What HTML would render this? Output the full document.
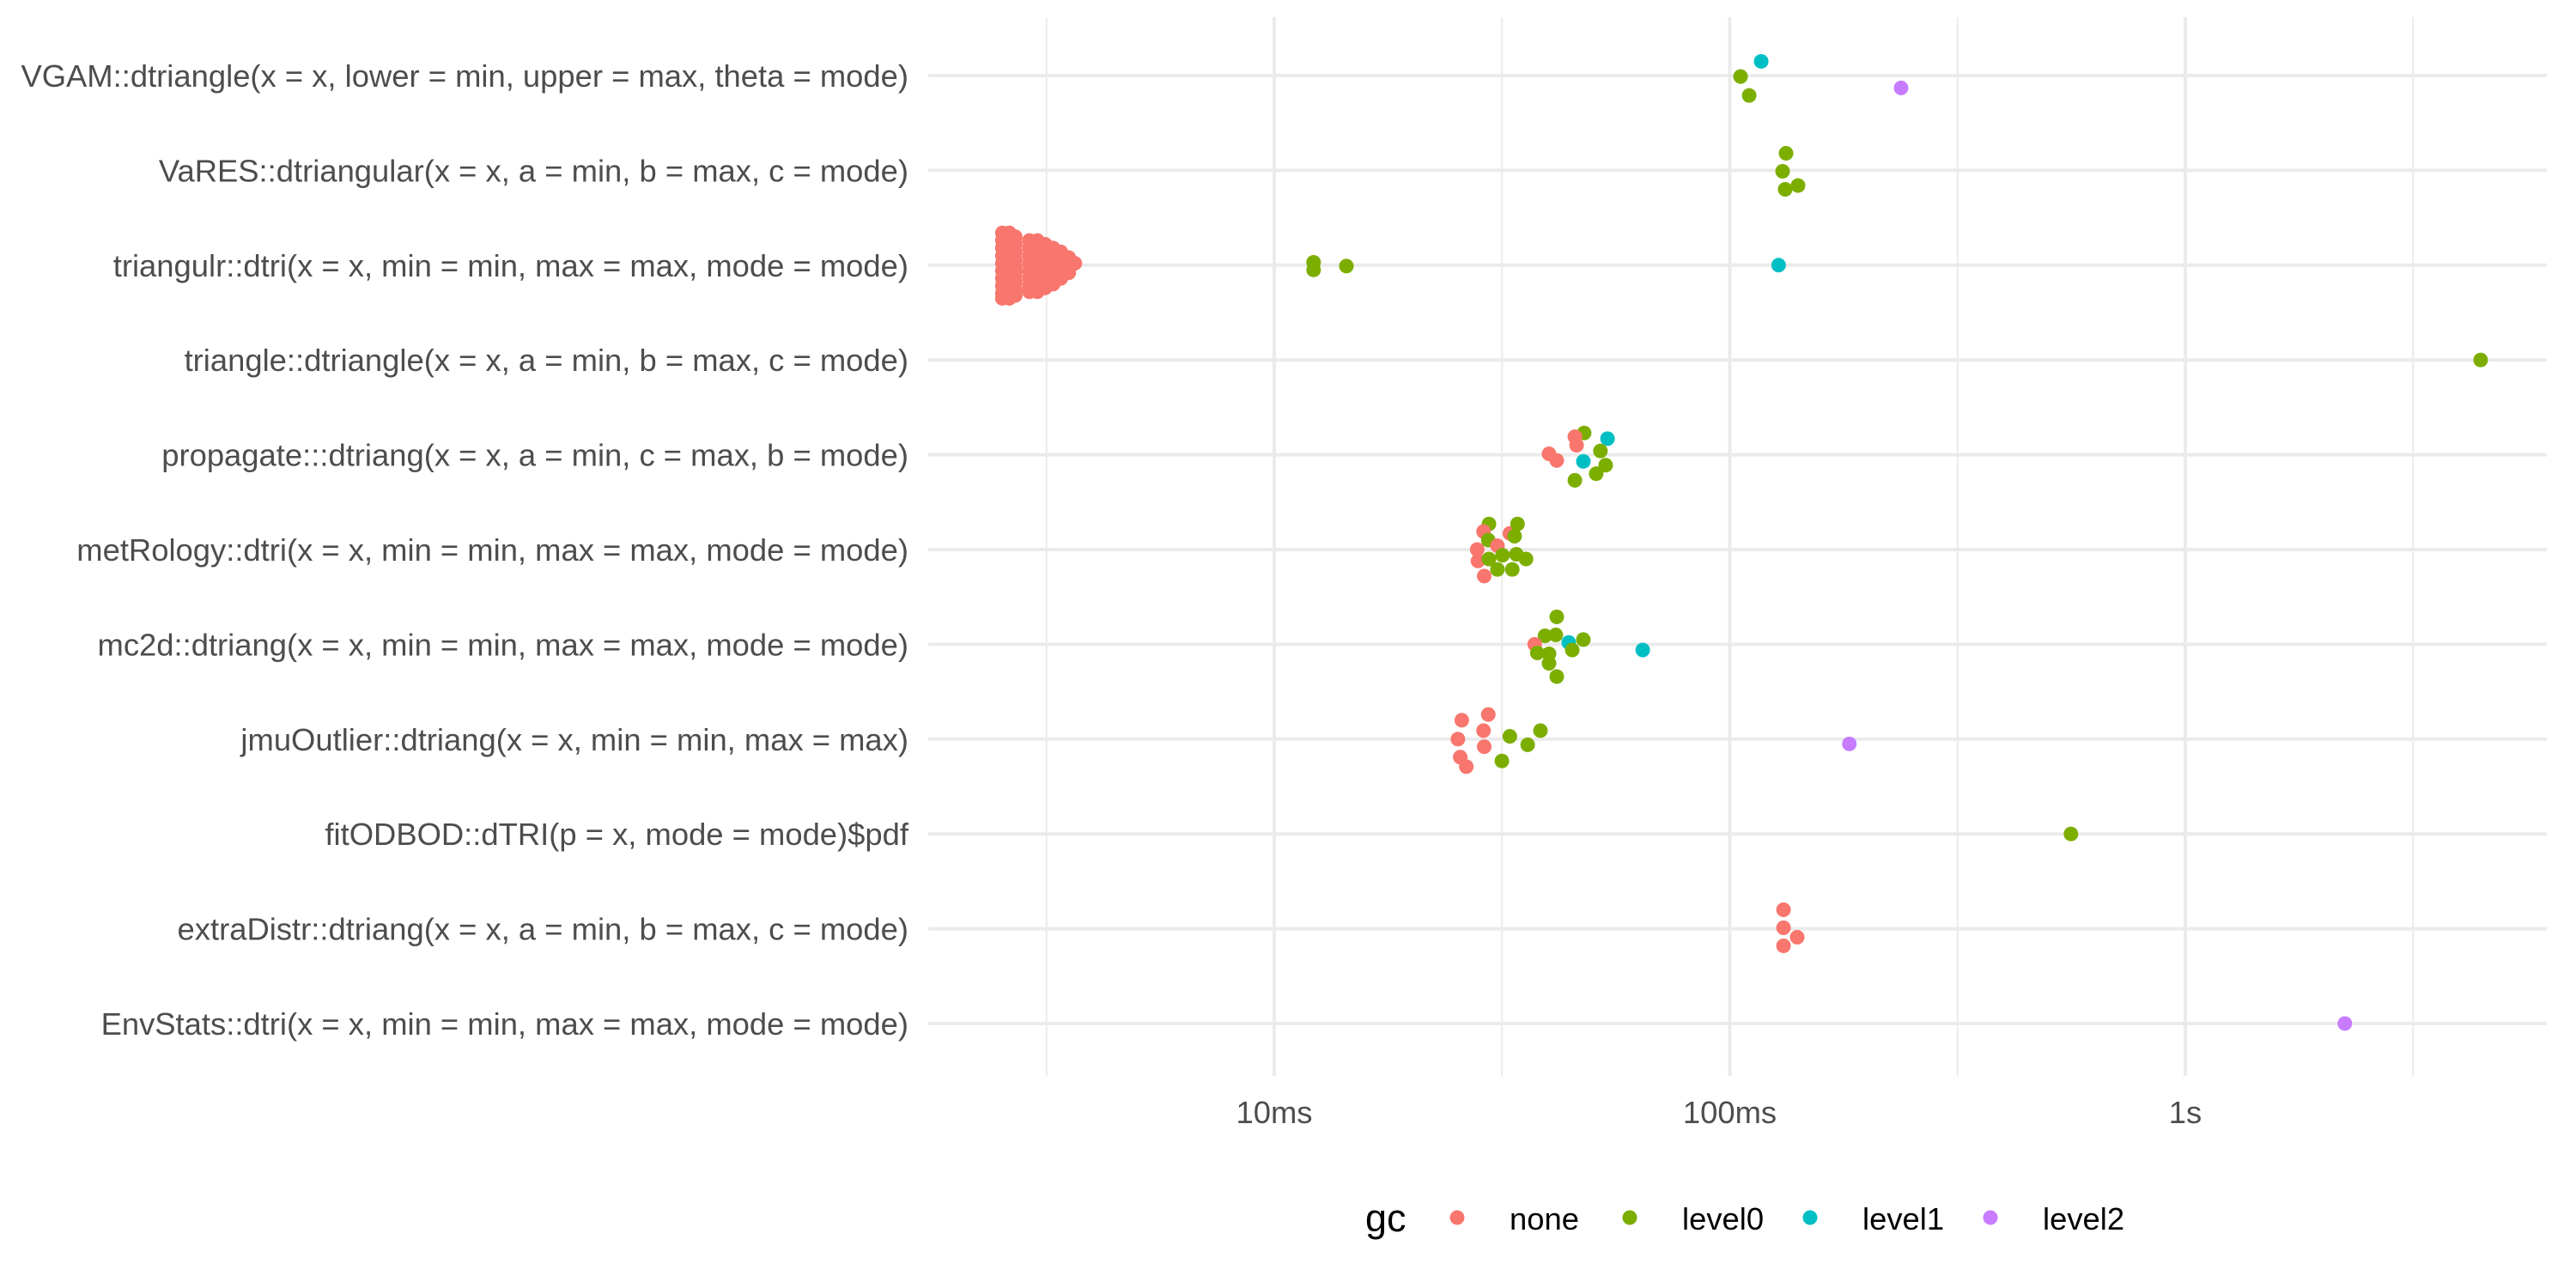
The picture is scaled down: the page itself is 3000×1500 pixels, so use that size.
<!DOCTYPE html>
<html><head><meta charset="utf-8"><style>
body{margin:0;background:#fff}
svg{display:block;font-family:"Liberation Sans",sans-serif}
</style></head><body>
<svg id="chart" width="3000" height="1500" viewBox="0 0 3000 1500" xmlns="http://www.w3.org/2000/svg">
<rect width="3000" height="1500" fill="#fff"/>
<g id="grid"></g>
<g id="ylabels"></g>
<g id="xlabels"></g>
<g id="points"></g>
<g id="legend">
<text x="1590" y="1434" font-size="45" fill="#000">gc</text>
</g>
</svg>
<script>
const categories = ["VGAM::dtriangle(x = x, lower = min, upper = max, theta = mode)","VaRES::dtriangular(x = x, a = min, b = max, c = mode)","triangulr::dtri(x = x, min = min, max = max, mode = mode)","triangle::dtriangle(x = x, a = min, b = max, c = mode)","propagate:::dtriang(x = x, a = min, c = max, b = mode)","metRology::dtri(x = x, min = min, max = max, mode = mode)","mc2d::dtriang(x = x, min = min, max = max, mode = mode)","jmuOutlier::dtriang(x = x, min = min, max = max)","fitODBOD::dTRI(p = x, mode = mode)$pdf","extraDistr::dtriang(x = x, a = min, b = max, c = mode)","EnvStats::dtri(x = x, min = min, max = max, mode = mode)"];
const gcLevels = ["none","level0","level1","level2"];
const gcColors = ["#F8766D","#7CAE00","#00BFC4","#C77CFF"];
const majorTicksMs = [10,100,1000];
const majorTickLabels = ["10ms","100ms","1s"];
const minorTicksMs = [3.162,31.62,316.2,3162];
// points: row index, time (ms), vertical jitter (row units), gc level index
const ptRow = [0,0,0,0, 1,1,1,1,
 3, 4,4,4,4,4,4,4,4,4,4,4,
 5,5,5,5,5,5,5,5,5,5,5,5,5,5,5,5,
 6,6,6,6,6,6,6,6,6,6,6,6,
 7,7,7,7,7,7,7,7,7,7,7,7,
 8, 9,9,9,9, 10,
 2,2,2,2,
 2,2,2,2,2,2,2,2,2,2, 2,2,2,2,2,2,2,2,2,2, 2,2,2,2,2,2,2,2,2,2,
 2,2,2,2,2,2,2,2, 2,2,2,2,2,2,2,2, 2,2,2,2,2,2,2, 2,2,2,2,2,2, 2,2,2,2,2, 2,2,2, 2];
const ptTime = [117.2,105.6,110.3,237.7, 132.9,130.6,132.3,141.2,
 4450, 47.9,45.7,46.1,53.9,52.0,40.1,41.7,47.7,53.4,50.9,45.7,
 29.6,28.8,32.9,34.2,33.7,29.5,30.9,27.9,28.0,29.6,31.7,34.0,35.7,30.9,33.3,28.9,
 41.7,39.3,41.5,37.3,44.3,47.7,45.1,37.8,40.1,40.1,41.7,64.4,
 29.5,25.8,28.8,25.3,32.9,38.4,28.9,36.0,25.6,26.4,31.6,183,
 561, 131.2,131.2,131.2,140.6, 2240,
 12.2,12.2,14.4,128,
 2.53,2.53,2.53,2.53,2.53,2.53,2.53,2.53,2.53,2.53, 2.62,2.62,2.62,2.62,2.62,2.62,2.62,2.62,2.62,2.62, 2.70,2.70,2.70,2.70,2.70,2.70,2.70,2.70,2.70,2.70,
 2.90,2.90,2.90,2.90,2.90,2.90,2.90,2.90, 3.02,3.02,3.02,3.02,3.02,3.02,3.02,3.02, 3.14,3.14,3.14,3.14,3.14,3.14,3.14, 3.27,3.27,3.27,3.27,3.27,3.27, 3.40,3.40,3.40,3.40,3.40, 3.54,3.54,3.54, 3.65];
const ptJitter = [-0.15,0.01,0.21,0.13, -0.18,0.01,0.2,0.16,
 0, -0.23,-0.19,-0.1,-0.17,-0.04,-0.01,0.06,0.07,0.11,0.2,0.27,
 -0.27,-0.19,-0.17,-0.27,-0.14,-0.1,-0.04,0,0.12,0.1,0.06,0.05,0.1,0.21,0.21,0.28,
 -0.29,-0.09,-0.1,0,-0.02,-0.05,0.06,0.09,0.1,0.2,0.34,0.06,
 -0.26,-0.2,-0.09,0,-0.03,-0.09,0.08,0.06,0.19,0.29,0.23,0.05,
 0, -0.2,-0.01,0.18,0.09, 0,
 -0.03,0.05,0.01,0,
 -0.34,-0.26,-0.18,-0.1,-0.02,0.06,0.14,0.22,0.3,0.35, -0.34,-0.26,-0.18,-0.1,-0.02,0.06,0.14,0.22,0.3,0.35, -0.3,-0.22,-0.14,-0.06,0.02,0.1,0.18,0.26,0.32,0.08,
 -0.26,-0.18,-0.1,-0.02,0.06,0.14,0.22,0.28, -0.26,-0.18,-0.1,-0.02,0.06,0.14,0.22,0.28, -0.22,-0.14,-0.06,0.02,0.1,0.18,0.24, -0.18,-0.1,-0.02,0.06,0.14,0.2, -0.14,-0.06,0.02,0.1,0.14, -0.08,0,0.08, -0.02];
const ptGc = [2,1,1,3, 1,1,1,1,
 1, 1,0,0,2,1,0,0,2,1,1,1,
 1,0,0,1,1,1,0,0,0,1,1,1,1,1,1,0,
 1,1,1,0,2,1,1,1,1,1,1,2,
 0,0,0,0,1,1,0,1,0,0,1,3,
 1, 0,0,0,0, 3,
 1,1,1,2,
 0,0,0,0,0,0,0,0,0,0, 0,0,0,0,0,0,0,0,0,0, 0,0,0,0,0,0,0,0,0,0,
 0,0,0,0,0,0,0,0, 0,0,0,0,0,0,0,0, 0,0,0,0,0,0,0, 0,0,0,0,0,0, 0,0,0,0,0, 0,0,0, 0];

const NS = "http://www.w3.org/2000/svg";
const panel = {left:1081, right:2966, top:20, bottom:1253};
const rowTop = 88, rowStep = 110.4;
function xScale(ms){ return 1484 + 530.5*(Math.log10(ms)-1); }
function yScale(row){ return rowTop + row*rowStep; }
function mk(tag, attrs, parent){ const e=document.createElementNS(NS,tag); for(const k in attrs) e.setAttribute(k,attrs[k]); parent.appendChild(e); return e; }

const grid = document.getElementById("grid");
minorTicksMs.forEach(ms=>{
  const l = mk("line",{x1:xScale(ms),x2:xScale(ms),y1:panel.top,y2:panel.bottom,stroke:"#EBEBEB","stroke-width":2},grid);
  
  
});
majorTicksMs.forEach(ms=>{
  const l = mk("line",{x1:xScale(ms),x2:xScale(ms),y1:panel.top,y2:panel.bottom,stroke:"#EBEBEB","stroke-width":4},grid);
  
  
});
categories.forEach((c,i)=>{
  const l = mk("line",{x1:panel.left,x2:panel.right,y1:yScale(i),y2:yScale(i),stroke:"#EBEBEB","stroke-width":4},grid);
  
  
  const t = mk("text",{x:1058,y:yScale(i)+13,"text-anchor":"end","font-size":36.4,fill:"#4D4D4D"},document.getElementById("ylabels"));
  t.textContent = c;
  
  
});
majorTicksMs.forEach((ms,i)=>{
  const t = mk("text",{x:xScale(ms),y:1308,"text-anchor":"middle","font-size":36.4,fill:"#4D4D4D"},document.getElementById("xlabels"));
  t.textContent = majorTickLabels[i];
  
  
});
const pts = document.getElementById("points");
ptTime.forEach((ms,i)=>{
  const c = mk("circle",{cx:xScale(ms),cy:yScale(ptRow[i])+ptJitter[i]*rowStep,r:8.5,fill:gcColors[ptGc[i]]},pts);
  
  
});
const legend = document.getElementById("legend");
const legX = [1697,1898,2108,2318];
gcLevels.forEach((g,i)=>{
  const c = mk("circle",{cx:legX[i],cy:1418,r:8.5,fill:gcColors[i]},legend);
  
  
  const t = mk("text",{x:legX[i]+61,y:1432,"font-size":36.4,fill:"#000"},legend);
  t.textContent = g;
  
  
});
</script>
</body></html>
